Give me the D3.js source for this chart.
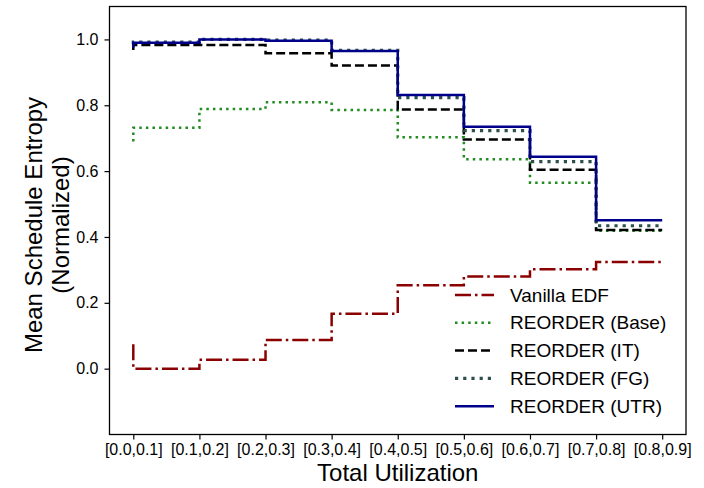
<!DOCTYPE html>
<html>
<head>
<meta charset="utf-8">
<script src="https://cdn.jsdelivr.net/npm/d3@7"></script>
<style>
  body { margin: 0; background: #fff; }
  text { font-family: "Liberation Sans", Arial, sans-serif; }
</style>
</head>
<body>
<div id="chart"></div>
<script>
// tick labels for the utilization buckets
var categories = ["[0.0,0.1]", "[0.1,0.2]", "[0.2,0.3]", "[0.3,0.4]", "[0.4,0.5]",
                  "[0.5,0.6]", "[0.6,0.7]", "[0.7,0.8]", "[0.8,0.9]"];

// step values (drawn with step 'pre', like matplotlib)
var vanilla = [0.074, 0.0, 0.027, 0.087, 0.167, 0.253, 0.280, 0.302, 0.324];
var base    = [0.690, 0.732, 0.789, 0.809, 0.786, 0.703, 0.636, 0.565, 0.419];
var it      = [0.968, 0.983, 0.983, 0.958, 0.921, 0.787, 0.696, 0.604, 0.421];
var fg      = [0.985, 0.992, 1.000, 0.998, 0.967, 0.823, 0.723, 0.629, 0.434];
var utr     = [0.975, 0.990, 1.000, 0.996, 0.965, 0.831, 0.735, 0.644, 0.451];

var yTicks = [0.0, 0.2, 0.4, 0.6, 0.8, 1.0];

var series = [
  {name: "Vanilla EDF",     values: vanilla, color: "#8b0000", width: 2.5, dash: "16,4,2.5,4"},
  {name: "REORDER (Base)",  values: base,    color: "#228b22", width: 2.5, dash: "2.5,4.1"},
  {name: "REORDER (IT)",    values: it,      color: "#000000", width: 2.5, dash: "9,4"},
  {name: "REORDER (FG)",    values: fg,      color: "#2f4f4f", width: 3.2, dash: "3.2,5"},
  {name: "REORDER (UTR)",   values: utr,     color: "#00008b", width: 2.5, dash: null}
];

var W = 704, H = 488;
var mLeft = 109.5, mRight = 686, mTop = 6.5, mBottom = 434.5;

var svg = d3.select("#chart").append("svg")
  .attr("width", W).attr("height", H);

var x = d3.scaleLinear().domain([-0.36, categories.length - 1 + 0.36]).range([mLeft, mRight]);
var y = d3.scaleLinear().domain([-0.2, 1.1]).range([mBottom, mTop]);

// lines
var line = d3.line()
  .x(function(d, i) { return x(i); })
  .y(function(d) { return y(d); })
  .curve(d3.curveStepBefore);

var plot = svg.append("g");
series.forEach(function(s) {
  plot.append("path")
    .datum(s.values)
    .attr("d", line)
    .attr("fill", "none")
    .attr("stroke", s.color)
    .attr("stroke-width", s.width)
    .attr("stroke-dasharray", s.dash);
});

// axes
var xAxis = svg.append("g")
  .attr("transform", "translate(0," + mBottom + ")")
  .call(d3.axisBottom(x).tickValues(d3.range(categories.length))
    .tickFormat(function(d) { return categories[d]; })
    .tickSize(5).tickPadding(4).tickSizeOuter(0));
xAxis.selectAll("text").attr("font-size", "16px").attr("fill", "#000");

var yAxis = svg.append("g")
  .attr("transform", "translate(" + mLeft + ",0)")
  .call(d3.axisLeft(y).tickValues(yTicks).tickFormat(d3.format(".1f"))
    .tickSize(5).tickPadding(6).tickSizeOuter(0));
yAxis.selectAll("text").attr("font-size", "16px").attr("fill", "#000");

svg.selectAll(".domain").remove();
svg.selectAll(".tick line").attr("stroke", "#000").attr("stroke-width", 1.2);

// frame
svg.append("rect")
  .attr("x", mLeft).attr("y", mTop)
  .attr("width", mRight - mLeft).attr("height", mBottom - mTop)
  .attr("fill", "none").attr("stroke", "#000").attr("stroke-width", 1.3);

// axis titles
svg.append("text")
  .attr("x", (mLeft + mRight) / 2).attr("y", 481)
  .attr("text-anchor", "middle").attr("font-size", "24px")
  .text("Total Utilization");

var yt = svg.append("text")
  .attr("transform", "translate(42,225) rotate(-90)")
  .attr("text-anchor", "middle").attr("font-size", "24px");
yt.append("tspan").attr("x", 0).attr("dy", 0).text("Mean Schedule Entropy");
yt.append("tspan").attr("x", 0).attr("dy", 27).text("(Normalized)");

// legend
var leg = svg.append("g").attr("transform", "translate(455,295)");
series.forEach(function(s, i) {
  var g = leg.append("g").attr("transform", "translate(0," + (i * 27.8) + ")");
  g.append("line")
    .attr("x1", 0).attr("x2", 39).attr("y1", 0).attr("y2", 0)
    .attr("stroke", s.color).attr("stroke-width", s.width)
    .attr("stroke-dasharray", s.dash);
  g.append("text")
    .attr("x", 55).attr("y", 0).attr("dy", "0.35em")
    .attr("font-size", "19px")
    .text(s.name);
});
</script>
</body>
</html>
